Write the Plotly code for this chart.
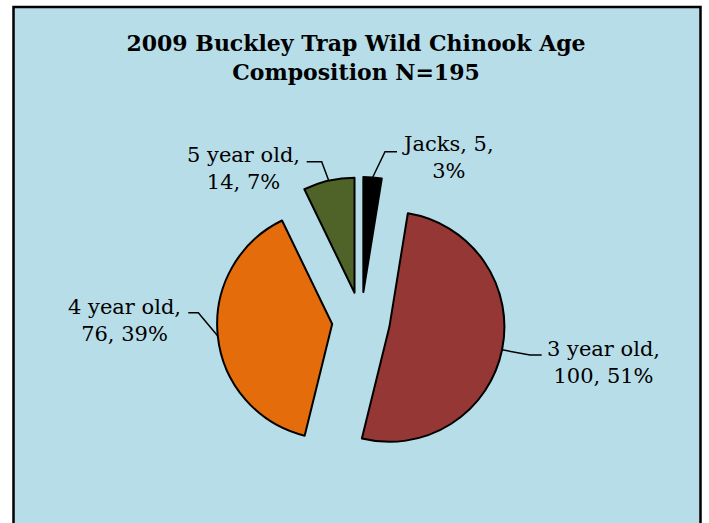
import math
import plotly.graph_objects as go

# %%
labels = ['Jacks', '3 year old', '4 year old', '5 year old']
counts = [5, 100, 76, 14]
colors = ['#000000', '#953735', '#E46C0A', '#4F6228']
title_text = '<b>2009 Buckley Trap Wild Chinook Age<br>Composition N=195</b>'

W, H = 709, 523
pull = 0.252
cx, cy, box = 361, 321, 288  # pie centre and box in pixels


def px(x, y):
    return x / W, 1 - y / H


# %%
total = sum(counts)
pcts = [round(c / total * 100) for c in counts]
texts = []
for name, c, p in zip(labels, counts, pcts):
    if name == 'Jacks':
        texts.append(f'{name}, {c},<br>{p}%')
    else:
        texts.append(f'{name},<br>{c}, {p}%')

# label centres and elbow / end of leader lines (pixels)
label_pos = [(448, 157), (603, 362), (124, 320), (243, 168)]
elbows = [[(385, 151.7), (397, 151.7)],
          [(530, 355), (541.7, 355)],
          [(198.3, 312.7), (188.3, 312.7)],
          [(321.7, 161.7), (306.7, 161.7)]]

fig = go.Figure()

fig.add_shape(type='rect', xref='paper', yref='paper',
              x0=13.5 / W, x1=700.5 / W, y0=-0.1, y1=1 - 7 / H,
              fillcolor='#B7DDE8', line=dict(color='black', width=2.5),
              layer='below')

fig.add_trace(go.Pie(
    labels=labels, values=counts, sort=False, direction='clockwise',
    rotation=0, pull=[pull] * 4, textinfo='none', hoverinfo='label+value+percent',
    marker=dict(colors=colors, line=dict(color='black', width=2)),
    domain=dict(x=[(cx - box / 2) / W, (cx + box / 2) / W],
                y=[1 - (cy + box / 2) / H, 1 - (cy - box / 2) / H]),
    showlegend=False))

# leader lines start on the arc at each slice's mid angle
r = box / (2 + 2 * pull)
start = 0
for i, c in enumerate(counts):
    mid = (start + c / 2) / total * 2 * math.pi
    start += c
    d = r * (1 + pull)
    ax, ay = cx + d * math.sin(mid), cy - d * math.cos(mid)
    pts = [(ax, ay)] + elbows[i]
    path = 'M ' + ' L '.join(f'{px(x, y)[0]} {px(x, y)[1]}' for x, y in pts)
    fig.add_shape(type='path', xref='paper', yref='paper', path=path,
                  line=dict(color='black', width=1.5))
    lx, ly = px(*label_pos[i])
    fig.add_annotation(x=lx, y=ly, xref='paper', yref='paper', text=texts[i],
                       showarrow=False, xanchor='center', yanchor='middle',
                       align='center',
                       font=dict(family='DejaVu Serif', size=21, color='black'))

fig.update_layout(width=W, height=H, paper_bgcolor='white',
                  margin=dict(l=0, r=0, t=0, b=0),
                  title=dict(text=title_text, x=356 / W, xanchor='center',
                             y=1 - 51 / H, yanchor='middle', yref='container',
                             font=dict(family='DejaVu Serif', size=22, color='black')))

fig.write_html('out.html', config={'displayModeBar': False},
               post_script="document.body.style.margin='0';")
